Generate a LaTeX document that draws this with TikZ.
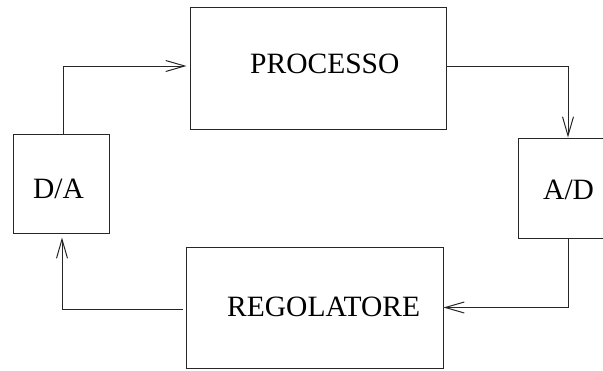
\documentclass[tikz,border=0pt]{standalone}
\usepackage{fontspec}
\setmainfont{Liberation Serif}
\usetikzlibrary{arrows.meta}
\tikzset{
  blockbox/.style={draw=black!85, line width=1pt, rectangle, inner sep=0pt},
  lbl/.style={anchor=base west, inner sep=0pt, font=\fontsize{29.5}{30}\selectfont},
  conn/.style={draw=black!85, line width=1pt},
  arr/.style={conn, -{Straight Barb[length=19pt,width=11pt,line width=1pt]}}
}
\begin{document}
\begin{tikzpicture}[x=1pt,y=-1pt]
\useasboundingbox (0,0) rectangle (603,370);
\clip (0,0) rectangle (603,370);
% boxes
\node[blockbox, minimum width=256pt, minimum height=122pt] (proc) at (318,68) {};
\node[blockbox, minimum width=96pt, minimum height=99pt] (da) at (61,183.5) {};
\node[blockbox, minimum width=102pt, minimum height=100pt] (ad) at (569,188) {};
\node[blockbox, minimum width=257pt, minimum height=121pt] (reg) at (314.5,307.5) {};
% texts
\node[lbl] (tproc) at (250,73) {PROCESSO};
\node[lbl] (treg) at (227,316) {REGOLATORE};
\node[lbl] (tda) at (33,198) {D/A};
\node[lbl] (tad) at (543,199) {A/D};
% connectors
\draw[arr] ([xshift=2pt]da.north) |- ([xshift=-3pt,yshift=2pt]proc.west);
\draw[arr] ([yshift=2pt]proc.east) -| ([xshift=-1pt]ad.north);
\draw[arr] ([xshift=-1pt]ad.south) |- (reg.east);
\draw[arr] ([xshift=-3pt,yshift=-1.5pt]reg.west) -| ([xshift=1pt,yshift=-4pt]da.south);
\end{tikzpicture}
\end{document}
